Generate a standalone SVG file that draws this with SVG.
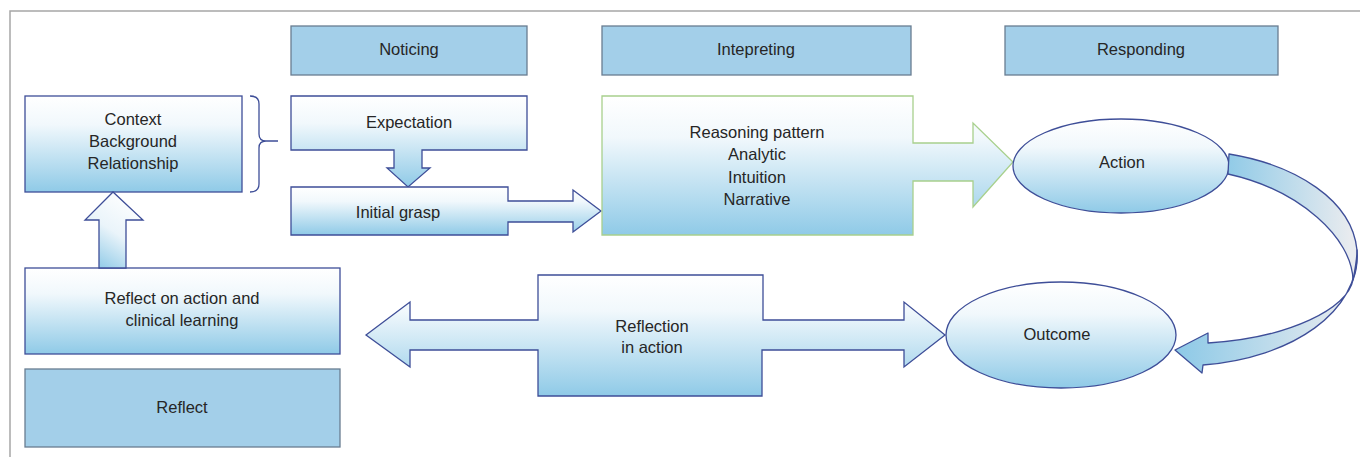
<svg xmlns="http://www.w3.org/2000/svg" width="1360" height="457" viewBox="0 0 1360 457">
<defs>
<linearGradient id="gv" x1="0" y1="0" x2="0" y2="1">
<stop offset="0" stop-color="#ffffff"/>
<stop offset="0.3" stop-color="#f1f8fc"/>
<stop offset="1" stop-color="#8fcae7"/>
</linearGradient>
<linearGradient id="gup" x1="0.7" y1="0" x2="0.2" y2="1">
<stop offset="0" stop-color="#ffffff"/>
<stop offset="0.5" stop-color="#eaf4fa"/>
<stop offset="1" stop-color="#8fcae7"/>
</linearGradient>
<linearGradient id="gr" gradientUnits="userSpaceOnUse" x1="1225" y1="0" x2="1350" y2="0">
<stop offset="0" stop-color="#8fcae7"/>
<stop offset="1" stop-color="#e8ebef"/>
</linearGradient>
<linearGradient id="gr2" gradientUnits="userSpaceOnUse" x1="1180" y1="0" x2="1350" y2="0">
<stop offset="0" stop-color="#8fcae7"/>
<stop offset="1" stop-color="#e8ebef"/>
</linearGradient>
</defs>
<style>
.hdr{fill:#a3cfe9;stroke:#697d91;stroke-width:1.3}
.nd{fill:url(#gv);stroke:#3e4e98;stroke-width:1.3}
.gn{fill:url(#gv);stroke:#a8d08d;stroke-width:1.3}
.t{font-family:"Liberation Sans",Arial,sans-serif;font-size:16.5px;fill:#262626;text-anchor:middle}
.frame{stroke:#a6a6a6;stroke-width:1.5;fill:none}
.rb{stroke:#3e4e98;stroke-width:1.3;stroke-linejoin:round}
</style>
<rect width="1360" height="457" fill="#ffffff"/>
<path class="frame" d="M10,457 V11 H1360"/>

<g id="hdr-noticing"><rect class="hdr" x="291" y="26" width="236" height="49"/><text class="t" x="409" y="55">Noticing</text></g>
<g id="hdr-intepreting"><rect class="hdr" x="602" y="26" width="309" height="49"/><text class="t" x="756" y="55">Intepreting</text></g>
<g id="hdr-responding"><rect class="hdr" x="1005" y="26" width="273" height="49"/><text class="t" x="1141" y="55">Responding</text></g>

<g id="context"><rect class="nd" x="25" y="96" width="217" height="96"/>
<text class="t" x="133" y="125">Context</text><text class="t" x="133" y="147">Background</text><text class="t" x="133" y="169">Relationship</text></g>

<g id="brace"><path d="M250,96 Q259,96 259,104 V134 Q259,141 266,141 H278 M266,141 Q259,141 259,148 V184 Q259,192 250,192" fill="none" stroke="#3e4e98" stroke-width="1.3"/></g>

<g id="expectation"><path class="nd" d="M291,96 H527 V150 H422 V168 H430 L408,187 L387,168 H394 V150 H291 Z"/>
<text class="t" x="409" y="128">Expectation</text></g>

<g id="initial-grasp"><path class="nd" d="M291,187 H508 V201 H573 V190 L601,211 L573,232 V222 H508 V235 H291 Z"/>
<text class="t" x="398" y="218">Initial grasp</text></g>

<g id="reasoning"><path class="gn" d="M602,96 H913 V143 H973 V123 L1013,162 L973,207 V181 H913 V235 H602 Z"/>
<text class="t" x="757" y="138">Reasoning pattern</text><text class="t" x="757" y="160">Analytic</text><text class="t" x="757" y="183">Intuition</text><text class="t" x="757" y="205">Narrative</text></g>

<g id="action"><ellipse class="nd" cx="1121" cy="166" rx="108" ry="47"/><text class="t" x="1122" y="168">Action</text></g>

<g id="outcome"><ellipse class="nd" cx="1061" cy="335" rx="115" ry="53"/><text class="t" x="1057" y="340">Outcome</text></g>

<g id="reflect-on-action"><rect class="nd" x="25" y="268" width="315" height="86"/>
<text class="t" x="182" y="304">Reflect on action and</text><text class="t" x="182" y="326">clinical learning</text></g>

<g id="reflect"><rect class="hdr" x="25" y="369" width="315" height="78"/><text class="t" x="182" y="413">Reflect</text></g>

<g id="reflection-in-action"><path class="nd" d="M366,335 L410,302 V320 H538 V275 H763 V320 H904 V302 L945,335 L904,367 V350 H762 V396 H538 V350 H410 V367 Z"/>
<text class="t" x="652" y="332">Reflection</text><text class="t" x="652" y="353">in action</text></g>

<g id="connectors">
<path d="M99,268 V220 H85 L113,192 L143,220 H126 V268 Z" fill="url(#gup)" stroke="#3e4e98" stroke-width="1.3"/>
<path class="rb" d="M1228,174 L1229,154 C1296,165 1352,200 1357,250 C1358,262 1356,272 1353,280 C1352,238 1300,190 1228,174 Z" fill="url(#gr)"/>
<path class="rb" d="M1357,250 C1360,312 1292,358 1203,365 L1202,373 L1175,350 L1208,333 L1208,343 C1290,338 1348,308 1353,280 C1355,270 1357,260 1357,250 Z" fill="url(#gr2)"/>
</g>
</svg>
